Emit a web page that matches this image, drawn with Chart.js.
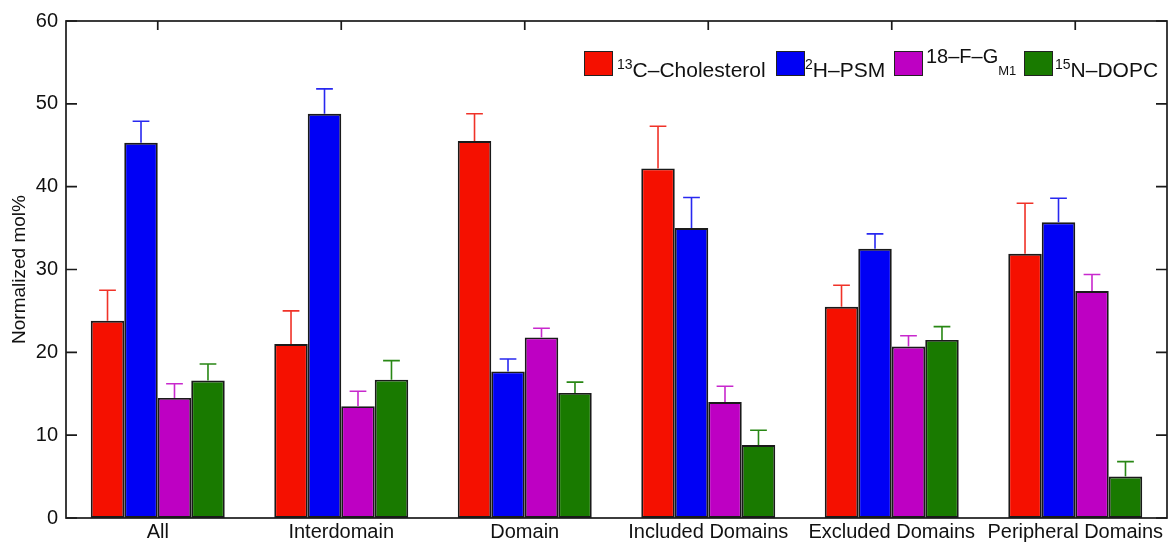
<!DOCTYPE html>
<html>
<head>
<meta charset="utf-8">
<script src="https://cdn.jsdelivr.net/npm/chart.js@4/dist/chart.umd.min.js"></script>
<style>
  body { margin: 0; background: #fff; }
  #wrap { position: relative; width: 1172px; height: 544px; }
  #legend { position: absolute; left: 0; top: 0; width: 1172px; height: 100px; pointer-events: none;
            font-family: "Liberation Sans", Arial, Helvetica, sans-serif; color: #111; }
  .box { position: absolute; top: 51px; width: 27px; height: 23px; border: 1.5px solid #222; }
  .lab { position: absolute; top: 52px; font-size: 21px; line-height: 24px; white-space: nowrap; }
  .lab sup { font-size: 14px; vertical-align: 8px; }
  .lab sub { font-size: 13px; vertical-align: -12px; }
</style>
</head>
<body>
<div id="wrap">
  <canvas id="chart" width="1172" height="544"></canvas>
  <div id="legend">
    <div class="box" style="left:584px;background:rgb(245,16,0)"></div>
    <div class="lab" style="left:617px"><sup>13</sup>C&#8211;Cholesterol</div>
    <div class="box" style="left:776px;background:rgb(0,0,245)"></div>
    <div class="lab" style="left:805px"><sup>2</sup>H&#8211;PSM</div>
    <div class="box" style="left:894px;background:rgb(190,0,195)"></div>
    <div class="lab" style="left:926px;top:44px;font-size:20px">18&#8211;F&#8211;G<sub>M1</sub></div>
    <div class="box" style="left:1024px;background:rgb(25,122,0)"></div>
    <div class="lab" style="left:1055px"><sup>15</sup>N&#8211;DOPC</div>
  </div>
</div>
<script>
const categories = ['All', 'Interdomain', 'Domain', 'Included Domains', 'Excluded Domains', 'Peripheral Domains'];

// bar heights (normalized mol%)
const cholesterol = [23.8, 21.0, 45.5, 42.2, 25.5, 31.9];
const psm = [45.3, 48.8, 17.7, 35.0, 32.5, 35.7];
const gm1 = [14.5, 13.5, 21.8, 14.0, 20.7, 27.4];
const dopc = [16.6, 16.7, 15.1, 8.8, 21.5, 5.0];

// upper error (only the + side is drawn)
const cholesterolErr = [3.7, 4.0, 3.3, 5.1, 2.6, 6.1];
const psmErr = [2.6, 3.0, 1.5, 3.7, 1.8, 2.9];
const gm1Err = [1.7, 1.8, 1.1, 1.9, 1.3, 2.0];
const dopcErr = [2.0, 2.3, 1.3, 1.8, 1.6, 1.8];

const yTicks = [0, 10, 20, 30, 40, 50, 60];

const fontFamily = '"Liberation Sans", Arial, Helvetica, sans-serif';

function makeSet(label, values, errs, fill, errColor) {
  return {
    label: label,
    data: values,
    errs: errs,
    errColor: errColor,
    backgroundColor: fill,
    borderColor: '#1a1a1a',
    borderWidth: 1.9,
    borderSkipped: false,
    categoryPercentage: 0.73,
    barPercentage: 1.0
  };
}

const data = {
  labels: categories,
  datasets: [
    makeSet('13C-Cholesterol', cholesterol, cholesterolErr, 'rgb(245,16,0)', 'rgb(240,50,40)'),
    makeSet('2H-PSM', psm, psmErr, 'rgb(0,0,245)', 'rgb(40,40,240)'),
    makeSet('18-F-GM1', gm1, gm1Err, 'rgb(190,0,195)', 'rgb(200,40,205)'),
    makeSet('15N-DOPC', dopc, dopcErr, 'rgb(25,122,0)', 'rgb(40,135,20)')
  ]
};

// error bars: line from bar top up to value + err, with a cap
const errorBars = {
  id: 'errorBars',
  afterDatasetsDraw(chart) {
    const ctx = chart.ctx;
    const y = chart.scales.y;
    chart.data.datasets.forEach((ds, i) => {
      const meta = chart.getDatasetMeta(i);
      meta.data.forEach((bar, j) => {
        const top = y.getPixelForValue(ds.data[j] + ds.errs[j]);
        const base = y.getPixelForValue(ds.data[j]);
        const half = bar.width / 4;
        ctx.save();
        ctx.strokeStyle = ds.errColor;
        ctx.lineWidth = 1.6;
        ctx.beginPath();
        ctx.moveTo(bar.x, base);
        ctx.lineTo(bar.x, top);
        ctx.moveTo(bar.x - half, top);
        ctx.lineTo(bar.x + half, top);
        ctx.stroke();
        ctx.restore();
      });
    });
  }
};

// box frame with inward ticks
const frame = {
  id: 'frame',
  afterDraw(chart) {
    const ctx = chart.ctx;
    const a = chart.chartArea;
    const x = chart.scales.x;
    const y = chart.scales.y;
    ctx.save();
    ctx.strokeStyle = '#1a1a1a';
    ctx.lineWidth = 1.7;
    ctx.strokeRect(a.left, a.top, a.right - a.left, a.bottom - a.top);
    ctx.beginPath();
    yTicks.forEach(v => {
      const py = y.getPixelForValue(v);
      ctx.moveTo(a.left, py);
      ctx.lineTo(a.left + 11, py);
      ctx.moveTo(a.right, py);
      ctx.lineTo(a.right - 11, py);
    });
    categories.forEach((c, i) => {
      const px = x.getPixelForValue(i);
      ctx.moveTo(px, a.top);
      ctx.lineTo(px, a.top + 9);
    });
    ctx.stroke();
    ctx.restore();
  }
};

const config = {
  type: 'bar',
  data,
  options: {
    responsive: false,
    animation: false,
    layout: { padding: { top: 21, right: 5, left: 0, bottom: 0 } },
    plugins: {
      legend: { display: false },
      tooltip: { enabled: false }
    },
    scales: {
      x: {
        grid: { display: false, drawTicks: false },
        border: { display: false },
        ticks: { color: '#111', font: { family: fontFamily, size: 20 }, padding: 2, maxRotation: 0, autoSkip: false },
        afterFit(scale) { scale.height = 26; }
      },
      y: {
        min: 0,
        max: 60,
        afterBuildTicks(scale) { scale.ticks = yTicks.map(v => ({ value: v })); },
        grid: { display: false, drawTicks: false },
        border: { display: false },
        ticks: { color: '#111', font: { family: fontFamily, size: 20 }, padding: 8 },
        title: {
          display: true,
          text: 'Normalized mol%',
          color: '#111',
          font: { family: fontFamily, size: 19 },
          padding: { top: 8, bottom: 0 }
        },
        afterFit(scale) { scale.width = 66; }
      }
    }
  },
  plugins: [errorBars, frame]
};

const myChart = new Chart(document.getElementById('chart'), config);
</script>
</body>
</html>
